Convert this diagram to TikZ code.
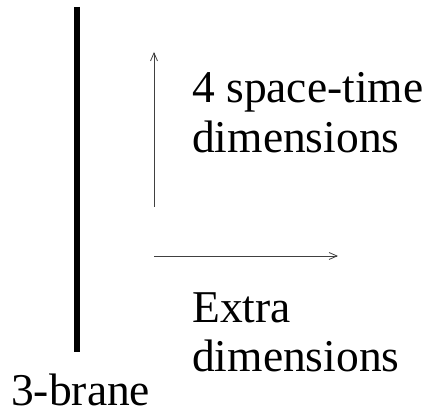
\documentclass[tikz,border=0pt]{standalone}
\usepackage{fontspec}
\setmainfont{Liberation Serif}
\usetikzlibrary{arrows.meta}
\begin{document}
\begin{tikzpicture}[x=1pt,y=1pt,
  lbl/.style={anchor=base west, inner sep=0pt, font=\fontsize{45.5}{54}\selectfont},
  axis/.style={draw=black!75, line width=0.9pt, -{Straight Barb[length=8pt,width=7pt,line width=0.8pt]}},
  brane/.style={draw=black, line width=6pt}]
\useasboundingbox (0,0) rectangle (428,414);
\coordinate (b1) at (77,407);
\coordinate (b2) at (77,62);
\draw[brane] (b1) -- (b2);
\coordinate (o1) at (154,207);
\coordinate (o1t) at (154,362);
\draw[axis] (o1) -- (o1t);
\coordinate (o2) at (154,158);
\coordinate (o2t) at (338,158);
\draw[axis] (o2) -- (o2t);
\node[lbl] (t1) at (192,311.5) {4 space-time};
\node[lbl] (t2) at (192,261.5) {dimensions};
\node[lbl] (t3) at (192,91.5) {Extra};
\node[lbl] (t4) at (192,42) {dimensions};
\node[lbl] (t5) at (11,8.5) {3-brane};
\end{tikzpicture}
\end{document}
